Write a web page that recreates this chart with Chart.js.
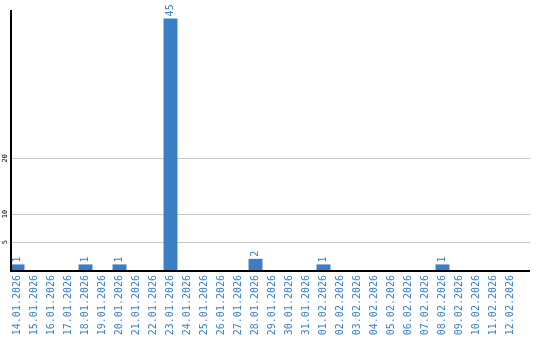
<!DOCTYPE html>
<html lang="de">
  <head>
    <meta charset="UTF-8" />
    <title>Tagesstatistik</title>
    <style>
      body { margin: 0; background: #fff; }
      #wrap { width: 540px; height: 340px; }
    </style>
  </head>
  <body>
    <div id="wrap">
      <canvas id="grafik" width="540" height="340"></canvas>
    </div>
    <script src="https://cdn.jsdelivr.net/npm/chart.js"></script>
    <script>
      const tage = [
        "14.01.2026", "15.01.2026", "16.01.2026", "17.01.2026", "18.01.2026",
        "19.01.2026", "20.01.2026", "21.01.2026", "22.01.2026", "23.01.2026",
        "24.01.2026", "25.01.2026", "26.01.2026", "27.01.2026", "28.01.2026",
        "29.01.2026", "30.01.2026", "31.01.2026", "01.02.2026", "02.02.2026",
        "03.02.2026", "04.02.2026", "05.02.2026", "06.02.2026", "07.02.2026",
        "08.02.2026", "09.02.2026", "10.02.2026", "11.02.2026", "12.02.2026",
      ];
      const anzahl = [
        1, 0, 0, 0, 1, 0, 1, 0, 0, 45,
        0, 0, 0, 0, 2, 0, 0, 0, 1, 0,
        0, 0, 0, 0, 0, 1, 0, 0, 0, 0,
      ];
      const yTicks = [5, 10, 20];

      const BLAU = "#3a7ec5";
      const SCHRIFT = "'DejaVu Sans Mono', monospace";

      // gitterlinien, achsen und beschriftungen selbst zeichnen
      const achsenPlugin = {
        id: "achsen",
        beforeDatasetsDraw(chart) {
          const { ctx, chartArea } = chart;
          const y = chart.scales.y;
          const rechts = chartArea.right + 11;
          ctx.save();
          ctx.strokeStyle = "#c8c8c8";
          ctx.lineWidth = 1;
          yTicks.forEach((t) => {
            const py = Math.round(y.getPixelForValue(t)) + 0.5;
            ctx.beginPath();
            ctx.moveTo(chartArea.left, py);
            ctx.lineTo(rechts, py);
            ctx.stroke();
          });
          ctx.fillStyle = "#000";
          ctx.font = "7px " + SCHRIFT;
          ctx.textAlign = "center";
          ctx.textBaseline = "middle";
          yTicks.forEach((t) => {
            const py = y.getPixelForValue(t);
            ctx.save();
            ctx.translate(5, py);
            ctx.rotate(-Math.PI / 2);
            ctx.fillText(String(t), 0, 0);
            ctx.restore();
          });
          ctx.restore();
        },
        afterDatasetsDraw(chart) {
          const { ctx, chartArea } = chart;
          const y = chart.scales.y;
          ctx.save();
          ctx.strokeStyle = "#000";
          ctx.lineWidth = 2;
          const basis = y.getPixelForValue(0);
          ctx.beginPath();
          ctx.moveTo(11, chartArea.top);
          ctx.lineTo(11, basis + 1);
          ctx.lineTo(chartArea.right + 11, basis + 1);
          ctx.stroke();

          // werte ueber den balken
          ctx.fillStyle = BLAU;
          ctx.font = "10px " + SCHRIFT;
          ctx.textAlign = "left";
          ctx.textBaseline = "middle";
          const meta = chart.getDatasetMeta(0);
          meta.data.forEach((bar, i) => {
            if (!anzahl[i]) return;
            ctx.save();
            ctx.translate(bar.x, bar.y - 2);
            ctx.rotate(-Math.PI / 2);
            ctx.fillText(String(anzahl[i]), 0, 0);
            ctx.restore();
          });
          ctx.restore();
        },
      };

      new Chart(document.getElementById("grafik"), {
        type: "bar",
        data: {
          labels: tage,
          datasets: [
            {
              data: anzahl,
              backgroundColor: BLAU,
              barPercentage: 0.82,
              categoryPercentage: 1,
            },
          ],
        },
        options: {
          responsive: false,
          animation: false,
          layout: { padding: { top: 10, right: 21, left: 0, bottom: 0 } },
          plugins: {
            legend: { display: false },
            tooltip: { enabled: false },
          },
          scales: {
            x: {
              grid: { display: false, drawTicks: false },
              border: { display: false },
              ticks: {
                color: BLAU,
                font: { family: SCHRIFT, size: 10 },
                minRotation: 90,
                maxRotation: 90,
                autoSkip: false,
                padding: 5,
              },
              afterFit(scale) {
                scale.height = 70;
              },
            },
            y: {
              min: 0,
              max: 46.5,
              grid: { display: false, drawTicks: false },
              border: { display: false },
              ticks: { display: false },
              afterFit(scale) {
                scale.width = 9;
              },
            },
          },
        },
        plugins: [achsenPlugin],
      });
    </script>
  </body>
</html>
